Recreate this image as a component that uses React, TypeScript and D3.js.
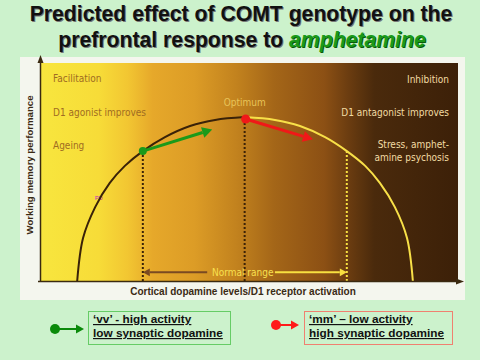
import React from "react";
import * as d3 from "d3";

// Conceptual inverted-U: dopamine level (0-100) vs working memory performance (0-100)
const curveDopamine = [8.9, 10.3, 13.2, 16.7, 20.3, 24.6, 29.9, 35.9, 41.9, 49, 56.2, 62.2, 68.2, 73.4, 77.8, 81.3, 84.9, 87.8, 89.2];
const curvePerformance = [0, 19.7, 33.9, 45, 52.8, 59.6, 66, 71.1, 73.9, 75.2, 73.9, 71.1, 66, 59.6, 52.8, 45, 33.9, 19.7, 0];
const optimumLevel = 49;

// markers
const vvPoint = { d: 24.6, p: 59.6 };
const vvArrowEnd = { d: 41.2, p: 69.5 };
const mmPoint = { d: 49.2, p: 74.3 };
const mmArrowEnd = { d: 65.3, p: 65 };
const stressLevel = 73.4;
const normalRangeP = 4;
const normalRangeGap = [40, 56.2];

const leftLabels = ["Facilitation", "D1 agonist improves", "Ageing"];
const rightLabels = ["Inhibition", "D1 antagonist improves", "Stress, amphet-", "amine psychosis"];
const legendVV = ["\u2018vv\u2019 - high activity", "low synaptic dopamine"];
const legendMM = ["\u2018mm\u2019 \u2013 low activity", "high synaptic dopamine"];

const gradientStops: [number, string][] = [
  [0, "#f8e63e"],
  [0.14, "#f7dc38"],
  [0.21, "#f2c632"],
  [0.27, "#e6a82a"],
  [0.37, "#dc9c26"],
  [0.47, "#c2821e"],
  [0.56, "#a46618"],
  [0.68, "#8c5014"],
  [0.74, "#6a3c10"],
  [0.8, "#4a2a0c"],
  [1, "#3c2008"],
];

export default function App() {
  const W = 480, H = 360;
  const x = d3.scaleLinear().domain([0, 100]).range([40, 458]);
  const y = d3.scaleLinear().domain([0, 100]).range([281, 63]);
  const pts = curveDopamine.map((d, i) => [d, curvePerformance[i]] as [number, number]);
  const leftPts = pts.filter((p) => p[0] <= optimumLevel);
  const rightPts = pts.filter((p) => p[0] >= optimumLevel);
  const line = d3.line<[number, number]>().x((d) => x(d[0])).y((d) => y(d[1])).curve(d3.curveCatmullRom.alpha(0.5));
  const interp = (lev: number) => {
    for (let i = 0; i < pts.length - 1; i++) {
      if (lev >= pts[i][0] && lev <= pts[i + 1][0]) {
        const t = (lev - pts[i][0]) / (pts[i + 1][0] - pts[i][0]);
        return pts[i][1] + t * (pts[i + 1][1] - pts[i][1]);
      }
    }
    return 0;
  };

  const arrow = (x1: number, y1: number, x2: number, y2: number, color: string, w: number, head: number) => {
    const ang = Math.atan2(y2 - y1, x2 - x1);
    const bx = x2 - head * Math.cos(ang), by = y2 - head * Math.sin(ang);
    const hw = head * 0.55;
    const p1 = [bx + hw * Math.sin(ang), by - hw * Math.cos(ang)];
    const p2 = [bx - hw * Math.sin(ang), by + hw * Math.cos(ang)];
    return (
      <g>
        <line x1={x1} y1={y1} x2={bx} y2={by} stroke={color} strokeWidth={w} />
        <polygon points={`${x2},${y2} ${p1[0]},${p1[1]} ${p2[0]},${p2[1]}`} fill={color} />
      </g>
    );
  };

  const fontLab = "'Liberation Sans', Arial, sans-serif";
  const titleFont = "'Liberation Sans', Arial, sans-serif";

  return (
    <div style={{ position: "fixed", left: 0, top: 0 }}>
      <svg width={W} height={H} style={{ display: "block" }}>
        <defs>
          <linearGradient id="bg" x1="0" x2="1" y1="0" y2="0">
            {gradientStops.map(([o, c], i) => (
              <stop key={i} offset={o} stopColor={c} />
            ))}
          </linearGradient>
        </defs>
        <rect x={0} y={0} width={W} height={H} fill="#ccf2cc" />
        {/* Title */}
        <g fontFamily={titleFont} fontWeight="bold" fontSize={21.2} textAnchor="middle">
          <text x={242} y={22} fill="#777">Predicted effect of COMT genotype on the</text>
          <text x={241} y={21} fill="#111">Predicted effect of COMT genotype on the</text>
          <text x={243} y={48} fill="#777">
            prefrontal response to <tspan fill="#0a5a0a" fontStyle="italic">amphetamine</tspan>
          </text>
          <text x={242} y={47} fill="#111">
            prefrontal response to <tspan fill="#1a9a1a" fontStyle="italic">amphetamine</tspan>
          </text>
        </g>
        {/* panel */}
        <rect x={20} y={57} width={445} height={243} fill="#f4f6ee" />
        <rect x={x(0)} y={y(100)} width={x(100) - x(0)} height={y(0) - y(100)} fill="url(#bg)" />

        {/* labels */}
        <g fontFamily="'DejaVu Sans Condensed', 'Liberation Sans', sans-serif" fontSize={10}>
          {leftLabels.map((t, i) => (
            <text key={t} x={53} y={82 + i * 33.5} fill="#a06c22">{t}</text>
          ))}
          {rightLabels.map((t, i) => (
            <text key={t} x={449} y={[83, 116, 148, 161][i]} fill="#f2dca4" textAnchor="end">{t}</text>
          ))}
          <text x={x(optimumLevel)} y={106} fill="#e8c458" textAnchor="middle">Optimum</text>
          <text x={x(48.5)} y={y(normalRangeP) + 3.5} fill="#f8e050" textAnchor="middle">Normal range</text>
        </g>
        <text x={95} y={200} fontSize={5.5} fill="#c020c0" fontFamily={fontLab}>PD</text>

        {/* normal range arrows */}
        {arrow(x(normalRangeGap[0]), y(normalRangeP), x(vvPoint.d), y(normalRangeP), "#7a4a22", 2, 7)}
        {arrow(x(normalRangeGap[1]), y(normalRangeP), x(stressLevel), y(normalRangeP), "#f8e040", 2, 7)}

        {/* dotted verticals */}
        <line x1={x(vvPoint.d)} x2={x(vvPoint.d)} y1={y(vvPoint.p)} y2={y(0)} stroke="#3a2208" strokeWidth={2} strokeDasharray="2,2" />
        <line x1={x(mmPoint.d) - 1} x2={x(mmPoint.d) - 1} y1={y(mmPoint.p)} y2={y(0)} stroke="#3a2208" strokeWidth={2} strokeDasharray="2,2" />
        <line x1={x(stressLevel)} x2={x(stressLevel)} y1={y(interp(stressLevel))} y2={y(0)} stroke="#f8e040" strokeWidth={2} strokeDasharray="2,2" />

        {/* curve */}
        <path d={line(leftPts) || ""} fill="none" stroke="#3a2208" strokeWidth={2} />
        <path d={line(rightPts) || ""} fill="none" stroke="#f8e048" strokeWidth={2} />

        {/* axes */}
        <line x1={x(0) + 0.5} x2={x(0) + 0.5} y1={y(0) + 1} y2={60} stroke="#3a2a10" strokeWidth={1.5} />
        <polygon points={`${x(0) + 0.5},55 ${x(0) - 2.5},63 ${x(0) + 3.5},63`} fill="#3a2a10" />
        <line x1={38} x2={458} y1={y(0) + 0.5} y2={y(0) + 0.5} stroke="#3a2a10" strokeWidth={1.5} />
        <polygon points={`464,${y(0) + 0.5} 456,${y(0) - 2.5} 456,${y(0) + 3.5}`} fill="#3a2a10" />

        <text transform={`translate(33,165) rotate(-90)`} textAnchor="middle" fontFamily={fontLab} fontWeight="bold" fontSize={9.6} fill="#3a2a14">Working memory performance</text>
        <text x={243} y={294.5} textAnchor="middle" fontFamily={fontLab} fontWeight="bold" fontSize={10} fill="#3a2a14">Cortical dopamine levels/D1 receptor activation</text>

        {/* genotype arrows */}
        {arrow(x(vvPoint.d), y(vvPoint.p), x(vvArrowEnd.d), y(vvArrowEnd.p), "#1a9a1a", 3, 10)}
        <circle cx={x(vvPoint.d)} cy={y(vvPoint.p)} r={4} fill="#1a9a1a" />
        {arrow(x(mmPoint.d), y(mmPoint.p), x(mmArrowEnd.d), y(mmArrowEnd.p), "#f01818", 3, 10)}
        <circle cx={x(mmPoint.d)} cy={y(mmPoint.p)} r={4.5} fill="#f01818" />

        {/* legend */}
        <circle cx={55} cy={329} r={5} fill="#0a8a0a" />
        {arrow(55, 329, 84, 329, "#0a8a0a", 2, 8)}
        <rect x={88.5} y={311.5} width={142} height={33} fill="none" stroke="#66cc66" strokeWidth={1} />
        <g fontFamily={fontLab} fontWeight="bold" fontSize={11.8} fill="#111" textDecoration="underline">
          {legendVV.map((t, i) => (
            <text key={t} x={93} y={323 + i * 14}>{t}</text>
          ))}
          {legendMM.map((t, i) => (
            <text key={t} x={309} y={323 + i * 14}>{t}</text>
          ))}
        </g>
        <circle cx={276} cy={325} r={5} fill="#ff1a1a" />
        {arrow(276, 325, 299, 325, "#ff1a1a", 2, 8)}
        <rect x={304.5} y={311.5} width={148} height={33} fill="none" stroke="#f08070" strokeWidth={1} />
      </svg>
    </div>
  );
}
